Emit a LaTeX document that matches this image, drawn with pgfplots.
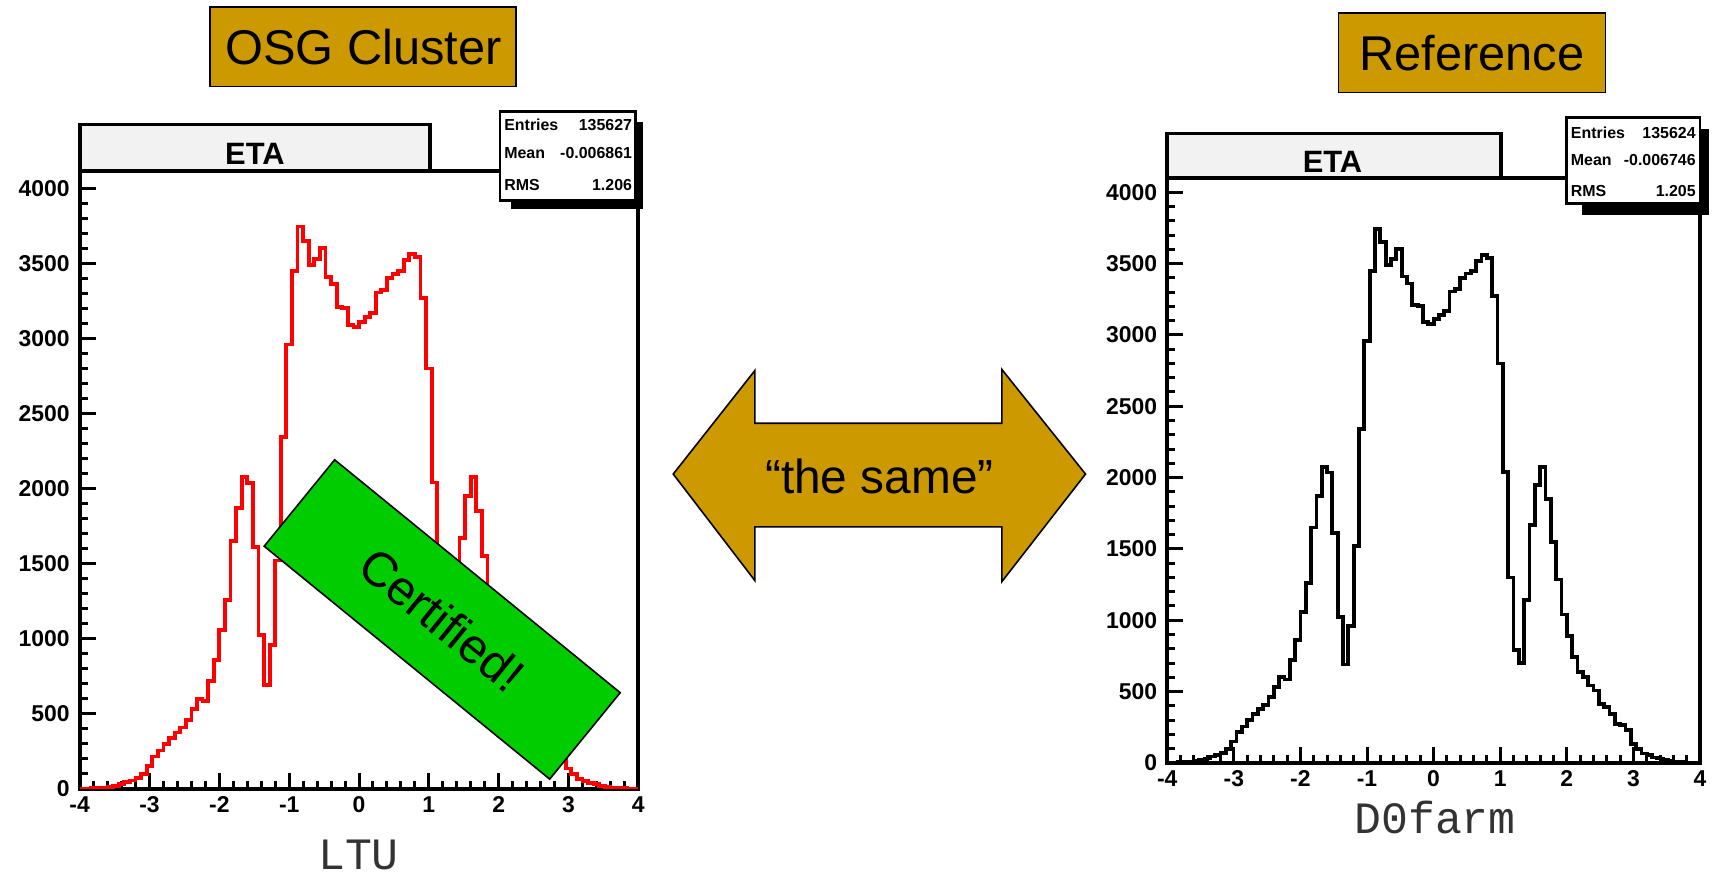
\documentclass[border=0pt]{standalone}
\usepackage{pgfplots}
\pgfplotsset{compat=1.18}
\usepackage{pgfplotstable}
\usepackage{fontspec}
\setmainfont{Liberation Sans}
\setmonofont{Liberation Mono}
\definecolor{gold}{RGB}{204,153,0}
\definecolor{certgreen}{RGB}{0,204,0}
\definecolor{titlegray}{RGB}{242,242,242}

\pgfplotstableread{
x y
-4.00 1
-3.92 2
-3.84 4
-3.76 6
-3.68 9
-3.60 13
-3.52 20
-3.44 30
-3.36 45
-3.28 55
-3.20 70
-3.12 100
-3.04 150
-2.96 215
-2.88 255
-2.80 300
-2.72 340
-2.64 375
-2.56 408
-2.48 460
-2.40 530
-2.32 600
-2.24 585
-2.16 720
-2.08 860
-2.00 1055
-1.92 1260
-1.84 1650
-1.76 1870
-1.68 2075
-1.60 2035
-1.52 1609
-1.44 1024
-1.36 690
-1.28 958
-1.20 1520
-1.12 2341
-1.04 2960
-0.96 3450
-0.88 3745
-0.80 3650
-0.72 3490
-0.64 3530
-0.56 3600
-0.48 3410
-0.40 3360
-0.32 3210
-0.24 3200
-0.16 3090
-0.08 3075
0.00 3110
0.08 3140
0.16 3170
0.24 3305
0.32 3320
0.40 3400
0.48 3430
0.56 3450
0.64 3520
0.72 3560
0.80 3540
0.88 3270
0.96 2800
1.04 2040
1.12 1300
1.20 790
1.28 700
1.36 1140
1.44 1670
1.52 1950
1.60 2075
1.68 1850
1.76 1550
1.84 1285
1.92 1040
2.00 890
2.08 741
2.16 636
2.24 601
2.32 543
2.40 508
2.48 415
2.56 392
2.64 345
2.72 275
2.80 263
2.88 228
2.96 135
3.04 100
3.12 65
3.20 54
3.28 37
3.36 30
3.44 19
3.52 12
3.60 8
3.68 5
3.76 3
3.84 2
3.92 1
4.00 1
}\etadata

\pgfplotsset{rootstyle/.style={
  scale only axis, anchor=south west,
  xmin=-4, xmax=4, ymin=0,
  xtick={-4,-3,...,4}, xticklabels={-4,-3,-2,-1,0,1,2,3,4},
  ytick={0,500,...,4000},
  yticklabels={0,500,1000,1500,2000,2500,3000,3500,4000},
  minor x tick num=4, minor y tick num=4,
  tick pos=left,
  major tick length=8pt, minor tick length=4pt,
  tick style={black, line width=1.5pt},
  axis line style={line width=1.9pt},
  ticklabel style={font=\bfseries\fontsize{11.5}{13}\selectfont},
  yticklabel style={xshift=-1.5pt},
  xticklabel style={yshift=-0.5pt},
}}

\begin{document}
\begin{tikzpicture}
\begin{scope}[x=0.5pt,y=-0.5pt]
\path[use as bounding box] (0,0) rectangle (1713,877);
\end{scope}

% left histogram
\begin{axis}[rootstyle, at={(40pt,-396pt)}, width=280.5pt, height=310pt, ymax=4113]
\addplot[const plot, red, line width=1.9pt] table[x=x,y=y] {\etadata};
\end{axis}

% right histogram
\begin{axis}[rootstyle, at={(586pt,-383pt)}, width=267.5pt, height=293.5pt, ymax=4098]
\addplot[const plot, black, line width=1.9pt] table[x=x,y=y] {\etadata};
\end{axis}

\begin{scope}[x=0.5pt,y=-0.5pt]
% title boxes
\draw[fill=titlegray, line width=1.9pt] (80,125) rectangle (432,172);
\node[anchor=base, font=\bfseries\fontsize{15.5}{18}\selectfont] at (256,165) {ETA};
\draw[fill=titlegray, line width=1.9pt] (1172,134) rectangle (1507,179);
\node[anchor=base, font=\bfseries\fontsize{15.5}{18}\selectfont] at (1338,173) {ETA};

% stats boxes
\fill[black] (513,123) rectangle (646,210);
\draw[fill=white, line width=1.4pt] (502,112) rectangle (638,201);
\begin{scope}[every node/.style={font=\bfseries\fontsize{8}{9}\selectfont, inner sep=0pt}]
\node[anchor=base west] at (506,131) {Entries};
\node[anchor=base east] at (635,131) {135627};
\node[anchor=base west] at (506,159) {Mean};
\node[anchor=base east] at (635,159) {-0.006861};
\node[anchor=base west] at (506,191) {RMS};
\node[anchor=base east] at (635,191) {1.206};
\end{scope}
\fill[black] (1588,130) rectangle (1716,216);
\draw[fill=white, line width=1.4pt] (1573,118) rectangle (1707,204);
\begin{scope}[every node/.style={font=\bfseries\fontsize{8}{9}\selectfont, inner sep=0pt}]
\node[anchor=base west] at (1577,139) {Entries};
\node[anchor=base east] at (1703,139) {135624};
\node[anchor=base west] at (1577,166) {Mean};
\node[anchor=base east] at (1703,166) {-0.006746};
\node[anchor=base west] at (1577,197) {RMS};
\node[anchor=base east] at (1703,197) {1.205};
\end{scope}

% axis labels
\node[anchor=base, text=black!80, font=\ttfamily\fontsize{22.5}{26}\selectfont] at (360,873) {LTU};
\node[anchor=base, text=black!80, font=\ttfamily\fontsize{22.5}{26}\selectfont] at (1441,837) {D0farm};

% headline boxes
\draw[fill=gold, line width=0.8pt] (211,7) rectangle (518,87);
\node[anchor=base, font=\fontsize{24.5}{28}\selectfont] at (365,65) {OSG Cluster};
\draw[fill=gold, line width=0.8pt] (1344,13) rectangle (1612,93);
\node[anchor=base, font=\fontsize{24.5}{28}\selectfont] at (1478,71) {Reference};

% double arrow
\draw[fill=gold, line width=0.8pt] (676,476) -- (758,372) -- (758,425) -- (1006,425) -- (1006,371)
  -- (1090,476) -- (1006,584) -- (1006,529) -- (758,529) -- (758,583) -- cycle;
\node[anchor=base, font=\fontsize{24}{27}\selectfont] at (883,496) {“the same”};

% certified stamp
\node[rotate=-39.2, fill=certgreen, draw=black, line width=0.8pt, minimum width=185pt, minimum height=56pt, inner sep=0pt, font=\fontsize{24.5}{28}\selectfont] at (444,622) {Certified!};
\end{scope}
\end{tikzpicture}
\end{document}
